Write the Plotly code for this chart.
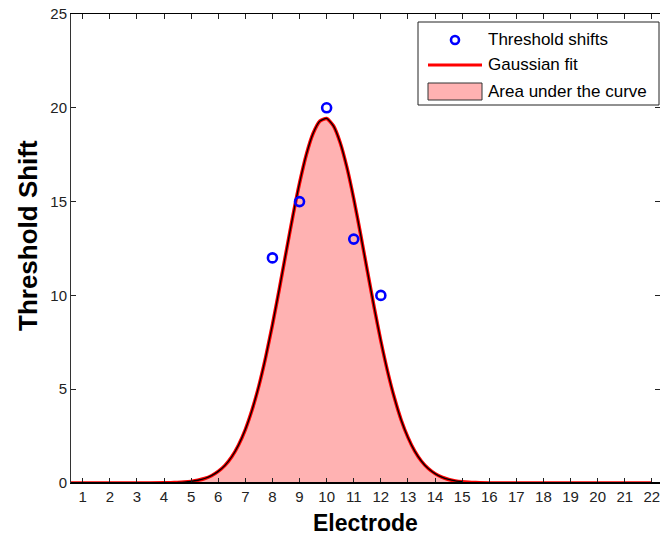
import plotly.graph_objects as go

# Measured data points
electrodes = [8, 9, 10, 11, 12]
threshold_shifts = [12, 15, 20, 13, 10]

# Gaussian fit curve
fit_x = [0, 1, 2, 3, 4, 4.25, 4.5, 4.75, 5, 5.25, 5.5, 5.75, 6, 6.25, 6.5,
         6.75, 7, 7.25, 7.5, 7.75, 8, 8.25, 8.5, 8.75, 9, 9.25, 9.5, 9.75,
         10, 10.25, 10.5, 10.75, 11, 11.25, 11.5, 11.75, 12, 12.25, 12.5,
         12.75, 13, 13.25, 13.5, 13.75, 14, 14.25, 14.5, 14.75, 15, 15.25,
         15.5, 16, 17, 18, 19, 20, 21, 22]
fit_y = [0, 0, 0, 0, 0.01, 0.015, 0.027, 0.049, 0.086, 0.146, 0.24, 0.39,
         0.62, 0.94, 1.40, 2.03, 2.85, 3.90, 5.18, 6.70, 8.43, 10.31, 12.27,
         14.20, 15.98, 17.50, 18.63, 19.29, 19.43, 19.04, 18.14, 16.81,
         15.15, 13.28, 11.32, 9.39, 7.57, 5.94, 4.54, 3.36, 2.43, 1.70, 1.16,
         0.77, 0.50, 0.31, 0.19, 0.114, 0.066, 0.037, 0.02, 0, 0, 0, 0, 0,
         0, 0]

# Area under the curve (shaded span, electrode 4.5 to 15)
area_x = fit_x[6:49]
area_y = fit_y[6:49]

x_ticks = list(range(1, 23))
y_ticks = [0, 5, 10, 15, 20, 25]

legend_labels = ["Threshold shifts", "Gaussian fit", "Area under the curve"]

FONT = "Liberation Sans, Arial, sans-serif"
W, H = 660, 540
L, R, T, B = 71, 0, 14, 57
PW, PH = W - L - R, H - T - B


def px(xpix):
    return (xpix - L) / PW


def py(ypix):
    return (H - B - ypix) / PH


fig = go.Figure()

fig.add_trace(go.Scatter(
    x=area_x, y=area_y, mode="lines", fill="tozeroy",
    fillcolor="rgb(255,178,178)", line=dict(color="rgba(0,0,0,0)", width=0),
    showlegend=False, hoverinfo="skip",
))
fig.add_trace(go.Scatter(
    x=fit_x, y=fit_y, mode="lines",
    line=dict(color="rgb(255,0,0)", width=3.5, shape="spline", smoothing=0.6),
    showlegend=False, name=legend_labels[1],
))
fig.add_trace(go.Scatter(
    x=area_x, y=area_y, mode="lines",
    line=dict(color="black", width=1.3, shape="spline", smoothing=0.6),
    showlegend=False, hoverinfo="skip", name=legend_labels[2],
))
fig.add_trace(go.Scatter(
    x=electrodes, y=threshold_shifts, mode="markers",
    marker=dict(symbol="circle-open", size=9, color="blue", line=dict(width=2.6, color="blue")),
    showlegend=False, name=legend_labels[0],
))
# invisible copy on the right-hand axis so its tick marks get drawn
fig.add_trace(go.Scatter(
    x=electrodes, y=threshold_shifts, mode="markers", yaxis="y2",
    marker=dict(size=1, opacity=0), showlegend=False, hoverinfo="skip",
))

fig.update_layout(
    width=W, height=H,
    margin=dict(l=L, r=R, t=T, b=B),
    paper_bgcolor="white", plot_bgcolor="white",
    font=dict(family=FONT, size=15, color="#222222"),
    showlegend=False,
    xaxis=dict(
        range=[0.568, 22.3], tickvals=x_ticks, ticktext=[str(v) for v in x_ticks],
        showgrid=False, zeroline=False, showline=True, linecolor="black", linewidth=1,
        mirror="ticks", ticks="inside", ticklen=5, tickcolor="#222222",
        tickfont=dict(size=15, color="#222222"), ticklabeloverflow="allow",
    ),
    yaxis=dict(
        range=[0, 25], tickvals=y_ticks, ticktext=[str(v) for v in y_ticks],
        showgrid=False, zeroline=False, showline=True, linecolor="#333333", linewidth=1,
        ticks="inside", ticklen=5, tickcolor="#222222",
        tickfont=dict(size=15, color="#222222"),
    ),
    yaxis2=dict(
        range=[0, 25], tickvals=y_ticks, overlaying="y", side="right",
        showgrid=False, zeroline=False, showline=False, showticklabels=False,
        ticks="inside", ticklen=5, tickcolor="#222222",
    ),
)

# bottom axis line (thicker)
fig.add_shape(type="line", xref="paper", yref="paper", x0=0, x1=1, y0=0, y1=0,
              line=dict(color="black", width=2), layer="above")

# axis titles
fig.add_annotation(text="<b>Electrode</b>", xref="paper", yref="paper",
                   x=0.5, y=py(523), xanchor="center", yanchor="middle",
                   showarrow=False, font=dict(family=FONT, size=23, color="black"))
fig.add_annotation(text="<b>Threshold Shift</b>", xref="paper", yref="paper",
                   x=px(28), y=py(236), xanchor="center", yanchor="middle",
                   textangle=-90, showarrow=False,
                   font=dict(family=FONT, size=26, color="black"))

# legend box
fig.add_shape(type="rect", xref="paper", yref="paper",
              x0=px(418), x1=px(659), y0=py(105), y1=py(22),
              line=dict(color="#222222", width=1), fillcolor="white", layer="above")
# legend symbols
fig.add_shape(type="circle", xref="paper", yref="paper",
              x0=px(451), x1=px(459), y0=py(44), y1=py(36),
              line=dict(color="blue", width=2.6), layer="above")
fig.add_shape(type="line", xref="paper", yref="paper",
              x0=px(428), x1=px(482), y0=py(65), y1=py(65),
              line=dict(color="rgb(255,0,0)", width=3), layer="above")
fig.add_shape(type="rect", xref="paper", yref="paper",
              x0=px(428), x1=px(482), y0=py(100), y1=py(83),
              line=dict(color="#333333", width=1), fillcolor="rgb(255,178,178)",
              layer="above")
for lbl, ypix in zip(legend_labels, [40, 65, 91]):
    fig.add_annotation(text=lbl, xref="paper", yref="paper",
                       x=px(486), y=py(ypix), xanchor="left", yanchor="middle",
                       showarrow=False, font=dict(family=FONT, size=17, color="black"))

fig.write_html("out.html")
